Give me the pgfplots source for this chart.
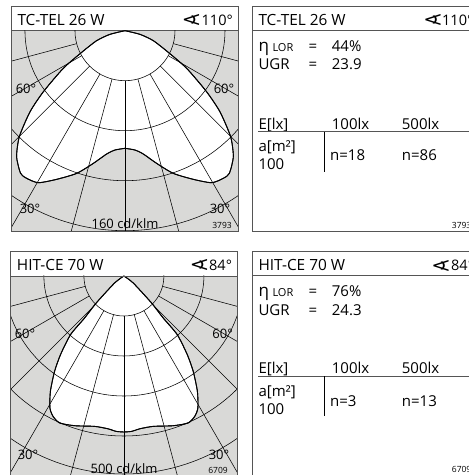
\documentclass[border=0pt]{standalone}
\usepackage{graphicx}
\usepackage{pgfplots}
\usepackage{pgfplotstable}
\pgfplotsset{compat=1.18}
\usepackage{fontspec}
\setmainfont{Open Sans}
\newfontfamily\symfont{DejaVu Sans}

% luminous intensity: half curve, gamma from nadir, I in cd/klm
\pgfplotstableread{
g I
90 0
76.3 12.4
70.6 24.0
63.4 38.8
58.6 57.8
53.2 81.5
49.5 99.9
44.9 119.7
40.7 132.9
36.2 141.4
33.7 141.9
29.7 140
24.7 130.9
18.7 120.5
13.4 109.1
8.5 99.8
4.8 95.8
0 94.1
}\teltable
\pgfplotstableread{
g I
90 0
53.1 29
45.7 96.7
43.1 143.9
42.3 198
38.9 252
36 295
32.5 342
29.3 378
26.8 393
23.6 401
18.2 394
11 383
6 384
2.8 389
0 390
}\hittable

\definecolor{panelgray}{HTML}{D9D9D7}
\definecolor{rulegray}{HTML}{555555}

\tikzset{ldc line/.style={draw=black,line width=0.55pt}}
\pgfplotsset{
  ldc/.style={
    scale only axis,
    xtick=\empty, ytick=\empty,
    axis line style={draw=rulegray,line width=0.8pt},
    axis background/.style={fill=panelgray},
    anchor=south west,
  },
  curve/.style={data cs=polar,fill=white,draw=black,line width=0.9pt,smooth,tension=0.4,no marks},
}
\newcommand{\sz}[1]{\fontsize{#1}{#1}\selectfont}
% text placed by pixel position, y counted from the top
\newcommand{\lab}[4]{\node[anchor=base west,inner sep=0pt,font=\sz{#3}] at (#1,{475-#2}) {#4};}
\newcommand{\cen}[4]{\node[anchor=center,inner sep=0pt,font=\sz{#3}] at (#1,{475-#2}) {#4};}
\newcommand{\ang}{\scalebox{1.7}[1.05]{\symfont∢}}

\begin{document}
\begin{tikzpicture}[x=1pt,y=1pt]
\useasboundingbox (0,0) rectangle (469,475);
\clip (0,0) rectangle (469,475);

% top left diagram
\begin{axis}[ldc,at={(11.7pt,243.3pt)},width=226.3pt,height=201pt,
  xmin=-90.6,xmax=90.4,ymin=-160.8,ymax=0]
\addplot[curve] table[x expr=270+\thisrow{g},y=I] {\teltable};
\addplot[curve] table[x expr=270-\thisrow{g},y=I] {\teltable};
\pgfplotsinvokeforeach{40,80,120,160}{\draw[ldc line] (axis cs:0,0) circle [radius=#1];}
\pgfplotsinvokeforeach{-75,-60,-45,-30,-15,0,15,30,45,60,75}{
  \draw[ldc line] (axis cs:{40*sin(#1)},{-40*cos(#1)}) -- (axis cs:{230*sin(#1)},{-230*cos(#1)});
}
\addplot[curve,fill=none] table[x expr=270+\thisrow{g},y=I] {\teltable};
\addplot[curve,fill=none] table[x expr=270-\thisrow{g},y=I] {\teltable};
\end{axis}

% bottom left diagram
\begin{axis}[ldc,at={(10.3pt,0pt)},width=227.2pt,height=199pt,
  xmin=-284,xmax=284,ymin=-497.5,ymax=0]
\addplot[curve] table[x expr=270+\thisrow{g},y=I] {\hittable};
\addplot[curve] table[x expr=270-\thisrow{g},y=I] {\hittable};
\pgfplotsinvokeforeach{100,200,300,400,495}{\draw[ldc line] (axis cs:0,0) circle [radius=#1];}
\pgfplotsinvokeforeach{-75,-60,-45,-30,-15,0,15,30,45,60,75}{
  \draw[ldc line] (axis cs:{100*sin(#1)},{-100*cos(#1)}) -- (axis cs:{700*sin(#1)},{-700*cos(#1)});
}
\addplot[curve,fill=none] table[x expr=270+\thisrow{g},y=I] {\hittable};
\addplot[curve,fill=none] table[x expr=270-\thisrow{g},y=I] {\hittable};
\end{axis}

% frames and header rules
\draw[rulegray,line width=0.8pt] (11.7,243.3) rectangle (238,468.3);
\draw[rulegray,line width=0.8pt] (10.3,-3) rectangle (237.5,223.7);
\draw[rulegray,line width=0.8pt] (10.3,199) -- (237.5,199);
\draw[rulegray,line width=0.8pt] (252.3,243.3) rectangle (480,468.3);
\draw[rulegray,line width=0.8pt] (252.3,-3) rectangle (480,223.7);
\draw[rulegray,line width=1pt] (252.3,444.3) -- (469,444.3);
\draw[rulegray,line width=1pt] (252.3,199.7) -- (469,199.7);

% diagram texts
\lab{17.3}{25.7}{15.4}{TC-TEL 26 W}
\lab{181}{26}{14.5}{\ang}
\lab{201.5}{25.7}{14.5}{110°}
\cen{26}{89}{13}{60°}
\cen{224}{89}{13}{60°}
\cen{30}{209}{13}{30°}
\cen{220}{209}{13}{30°}
\cen{125}{224}{13}{160 cd/klm}
\cen{222}{225}{8.5}{3793}

\lab{16.7}{270.5}{15.4}{HIT-CE 70 W}
\lab{189}{270.8}{14.5}{\ang}
\lab{209}{270.5}{14.5}{84°}
\cen{25}{334}{13}{60°}
\cen{222.7}{334}{13}{60°}
\cen{28}{454.7}{13}{30°}
\cen{219}{454.7}{13}{30°}
\cen{124}{468.7}{13}{500 cd/klm}
\cen{218}{470}{8.5}{6709}

% right hand panels
\lab{258.3}{25.7}{15.4}{TC-TEL 26 W}
\lab{422.5}{26}{14.5}{\ang}
\lab{442}{25.7}{14.5}{110°}
\lab{258.3}{51.7}{17}{η}
\lab{272.3}{51.7}{11}{LOR}
\lab{308.5}{51.7}{15}{=}
\lab{331.7}{51.7}{15}{44\%}
\lab{258.3}{70}{15}{UGR}
\lab{308.5}{70}{15}{=}
\lab{331.7}{70}{15}{23.9}
\lab{258.3}{129.3}{15}{E[lx]}
\lab{331.7}{129.3}{15}{100lx}
\lab{401.7}{129.3}{15}{500lx}
\draw[rulegray,line width=1pt] (258,343) -- (469,343);
\draw[black,line width=0.7pt] (324.3,343) -- (324.3,303.3);
\lab{258.3}{151.7}{15}{a[m²]}
\lab{258.3}{169.3}{15}{100}
\lab{330}{160.7}{15}{n=18}
\lab{401.7}{160.7}{15}{n=86}
\lab{451.7}{229}{8.5}{3793}

\lab{258.3}{271}{15.4}{HIT-CE 70 W}
\lab{430.5}{271.3}{14.5}{\ang}
\lab{451}{271}{14.5}{84°}
\lab{258.3}{296.7}{17}{η}
\lab{272.3}{296.7}{11}{LOR}
\lab{308.5}{296.7}{15}{=}
\lab{331.7}{296.7}{15}{76\%}
\lab{258.3}{315.3}{15}{UGR}
\lab{308.5}{315.3}{15}{=}
\lab{331.7}{315.3}{15}{24.3}
\lab{258.3}{374}{15}{E[lx]}
\lab{331.7}{374}{15}{100lx}
\lab{401.7}{374}{15}{500lx}
\draw[rulegray,line width=1pt] (258,98.7) -- (469,98.7);
\draw[black,line width=0.7pt] (324.3,98.7) -- (324.3,58.7);
\lab{258.3}{396.3}{15}{a[m²]}
\lab{258.3}{414.7}{15}{100}
\lab{330}{406.3}{15}{n=3}
\lab{401.7}{406.3}{15}{n=13}
\lab{451.7}{472.3}{8.5}{6709}
\end{tikzpicture}
\end{document}
